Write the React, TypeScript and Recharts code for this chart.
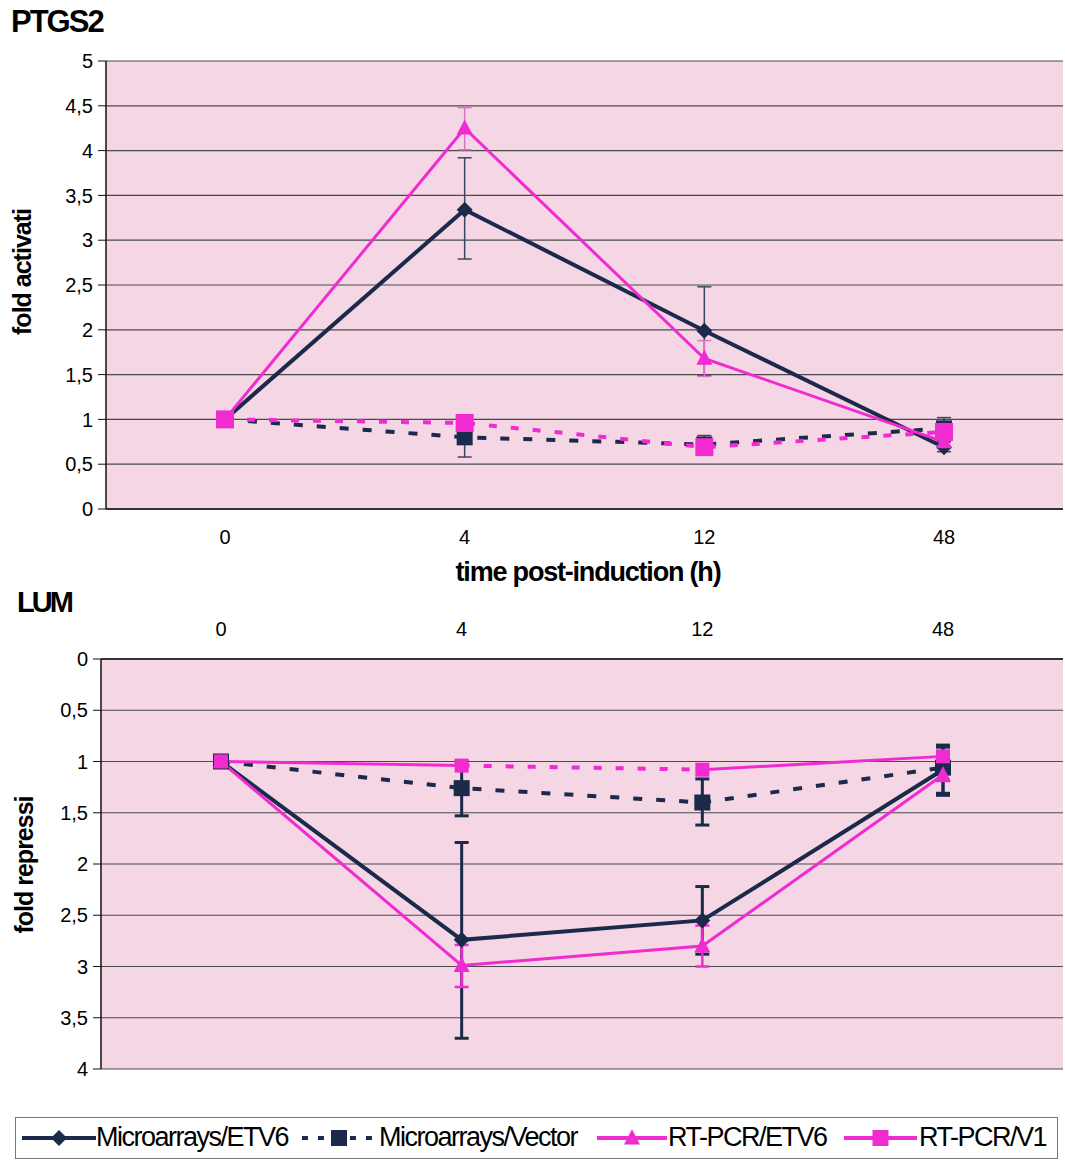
import { LineChart, Line, XAxis, YAxis, CartesianGrid, ErrorBar } from 'recharts'

const times = ['0', '4', '12', '48']

// PTGS2 - fold activation
const ptgsMicroEtv6 = [1, 3.34, 1.99, 0.69]
const ptgsMicroEtv6Err = [null, [0.55, 0.58], [0.5, 0.49], [0.05, 0.06]]
const ptgsMicroVector = [1, 0.8, 0.72, 0.9]
const ptgsMicroVectorErr = [null, [0.22, 0.2], [0.07, 0.1], [0.1, 0.12]]
const ptgsRtEtv6 = [1, 4.25, 1.68, 0.75]
const ptgsRtEtv6Err = [null, [0.24, 0.23], [0.2, 0.2], [0.05, 0.05]]
const ptgsRtV1 = [1, 0.96, 0.69, 0.86]

// LUM - fold repression
const lumMicroEtv6 = [1, 2.74, 2.55, 1.08]
const lumMicroEtv6Err = [null, [0.95, 0.96], [0.33, 0.33], [0.24, 0.25]]
const lumMicroVector = [1, 1.26, 1.4, 1.06]
const lumMicroVectorErr = [null, [0.26, 0.27], [0.23, 0.22], [0.2, 0.25]]
const lumRtEtv6 = [1, 2.99, 2.8, 1.13]
const lumRtEtv6Err = [null, [0.2, 0.21], [0.2, 0.2], [0.06, 0.06]]
const lumRtV1 = [1, 1.04, 1.08, 0.95]

const ptgsTicks = [0, 0.5, 1, 1.5, 2, 2.5, 3, 3.5, 4, 4.5, 5]
const lumTicks = [0, 0.5, 1, 1.5, 2, 2.5, 3, 3.5, 4]

const legendNames = ['Microarrays/ETV6', 'Microarrays/Vector', 'RT-PCR/ETV6', 'RT-PCR/V1']

const navy = '#1b2a4b'
const magenta = '#f02bd0'
const pink = '#f4d6e5'
const font = '"Liberation Sans", Arial, sans-serif'

const ptgsData = times.map((t, i) => ({
  time: t,
  microEtv6: ptgsMicroEtv6[i],
  microEtv6Err: ptgsMicroEtv6Err[i],
  microVector: ptgsMicroVector[i],
  microVectorErr: ptgsMicroVectorErr[i],
  rtEtv6: ptgsRtEtv6[i],
  rtEtv6Err: ptgsRtEtv6Err[i],
  rtV1: ptgsRtV1[i],
}))

// RT-PCR/V1 on LUM is drawn solid on the outer segments, dashed in the middle
const lumData = times.map((t, i) => ({
  time: t,
  microEtv6: lumMicroEtv6[i],
  microEtv6Err: lumMicroEtv6Err[i],
  microVector: lumMicroVector[i],
  microVectorErr: lumMicroVectorErr[i],
  rtEtv6: lumRtEtv6[i],
  rtEtv6Err: lumRtEtv6Err[i],
  rtV1a: i <= 1 ? lumRtV1[i] : null,
  rtV1b: i >= 1 && i <= 2 ? lumRtV1[i] : null,
  rtV1c: i >= 2 ? lumRtV1[i] : null,
}))

const comma = (v: number) => String(v).replace('.', ',')

function marker(kind: string, color: string, r: number) {
  return (props: any) => {
    const { cx, cy, index } = props
    if (cx == null || cy == null || isNaN(cy)) return <g key={index} />
    let d = ''
    if (kind === 'diamond') d = `M${cx},${cy - r}L${cx + r},${cy}L${cx},${cy + r}L${cx - r},${cy}Z`
    else if (kind === 'square') d = `M${cx - r},${cy - r}h${2 * r}v${2 * r}h${-2 * r}Z`
    else d = `M${cx},${cy - r * 1.1}L${cx + r},${cy + r * 0.8}L${cx - r},${cy + r * 0.8}Z`
    return <path key={index} d={d} fill={color} stroke="none" />
  }
}

const tickStyle = { fill: '#000', fontSize: 20, fontFamily: font }

function LegendGlyph({ kind, color, dash, width }: { kind: string; color: string; dash?: string; width: number }) {
  const c = width / 2
  const r = 8
  let d = ''
  if (kind === 'diamond') d = `M${c},${10 - r}L${c + r},10L${c},${10 + r}L${c - r},10Z`
  else if (kind === 'square') d = `M${c - r},${10 - r}h${2 * r}v${2 * r}h${-2 * r}Z`
  else d = `M${c},${10 - r * 1.1}L${c + r},${10 + r * 0.8}L${c - r},${10 + r * 0.8}Z`
  return (
    <svg width={width} height={20} style={{ display: 'block' }}>
      <line x1={0} y1={10} x2={width} y2={10} stroke={color} strokeWidth={4} strokeDasharray={dash} />
      <path d={d} fill={color} />
    </svg>
  )
}

export default function App() {
  return (
    <div style={{ position: 'absolute', left: 0, top: 0, width: 1065, height: 1161, background: '#fff', fontFamily: font, color: '#000' }}>
      <div style={{ position: 'absolute', left: 11, top: 4, fontSize: 31, fontWeight: 700, letterSpacing: -2 }}>PTGS2</div>
      <div style={{ position: 'absolute', left: 0, top: 0 }}>
        <LineChart width={1065} height={560} data={ptgsData} margin={{ top: 61, right: 2, bottom: 11, left: 46 }}>
          <CartesianGrid vertical={false} stroke="#4a4a4a" strokeWidth={1.2} fill={pink} fillOpacity={1} />
          <XAxis dataKey="time" height={40} padding={{ left: 119, right: 119 }} tickLine={false} tickSize={8} tickMargin={13}
            axisLine={{ stroke: '#111', strokeWidth: 1.5 }} tick={tickStyle} />
          <YAxis width={60} domain={[0, 5]} ticks={ptgsTicks} tickFormatter={comma} tickSize={8} tickMargin={5}
            tickLine={{ stroke: '#111' }} axisLine={{ stroke: '#111', strokeWidth: 1.5 }} tick={tickStyle} interval={0} />
          <Line dataKey="microEtv6" stroke={navy} strokeWidth={4} dot={marker('diamond', navy, 8)} activeDot={false} isAnimationActive={false}>
            <ErrorBar dataKey="microEtv6Err" width={7} strokeWidth={1.5} stroke="#3b4663" direction="y" />
          </Line>
          <Line dataKey="microVector" stroke={navy} strokeWidth={4} strokeDasharray="9 14" dot={marker('square', navy, 8)} activeDot={false} isAnimationActive={false}>
            <ErrorBar dataKey="microVectorErr" width={7} strokeWidth={1.5} stroke="#3b4663" direction="y" />
          </Line>
          <Line dataKey="rtEtv6" stroke={magenta} strokeWidth={3} dot={marker('triangle', magenta, 8)} activeDot={false} isAnimationActive={false}>
            <ErrorBar dataKey="rtEtv6Err" width={7} strokeWidth={1.5} stroke="#e070c8" direction="y" />
          </Line>
          <Line dataKey="rtV1" stroke={magenta} strokeWidth={4} strokeDasharray="8 14" dot={marker('square', magenta, 9)} activeDot={false} isAnimationActive={false} />
        </LineChart>
      </div>
      <div style={{ position: 'absolute', left: 22, top: 272, transform: 'translate(-50%, -50%) rotate(-90deg)', whiteSpace: 'nowrap', fontSize: 25, fontWeight: 700, letterSpacing: -1 }}>fold activati</div>
      <div style={{ position: 'absolute', left: 588, top: 572, transform: 'translate(-50%, -50%)', whiteSpace: 'nowrap', fontSize: 27, fontWeight: 700, letterSpacing: -1.2 }}>time post-induction (h)</div>

      <div style={{ position: 'absolute', left: 17, top: 586, fontSize: 29, fontWeight: 700, letterSpacing: -3 }}>LUM</div>
      <div style={{ position: 'absolute', left: 0, top: 580 }}>
        <LineChart width={1065} height={500} data={lumData} margin={{ top: 39, right: 2, bottom: 11, left: 41 }}>
          <CartesianGrid vertical={false} stroke="#4a4a4a" strokeWidth={1.2} fill={pink} fillOpacity={1} />
          <XAxis dataKey="time" orientation="top" height={40} padding={{ left: 120, right: 120 }} tickLine={false} tickSize={8} tickMargin={15}
            axisLine={{ stroke: '#111', strokeWidth: 1.5 }} tick={tickStyle} />
          <YAxis width={60} reversed domain={[0, 4]} ticks={lumTicks} tickFormatter={comma} tickSize={8} tickMargin={5}
            tickLine={{ stroke: '#111' }} axisLine={{ stroke: '#111', strokeWidth: 1.5 }} tick={tickStyle} interval={0} />
          <Line dataKey="microEtv6" stroke={navy} strokeWidth={4} dot={marker('diamond', navy, 8)} activeDot={false} isAnimationActive={false}>
            <ErrorBar dataKey="microEtv6Err" width={7} strokeWidth={3} stroke={navy} direction="y" />
          </Line>
          <Line dataKey="microVector" stroke={navy} strokeWidth={4} strokeDasharray="9 14" dot={marker('square', navy, 8)} activeDot={false} isAnimationActive={false}>
            <ErrorBar dataKey="microVectorErr" width={7} strokeWidth={3} stroke={navy} direction="y" />
          </Line>
          <Line dataKey="rtEtv6" stroke={magenta} strokeWidth={3} dot={marker('triangle', magenta, 8)} activeDot={false} isAnimationActive={false}>
            <ErrorBar dataKey="rtEtv6Err" width={7} strokeWidth={2.5} stroke={magenta} direction="y" />
          </Line>
          <Line dataKey="rtV1a" stroke={magenta} strokeWidth={3} dot={marker('square', magenta, 7)} activeDot={false} isAnimationActive={false} />
          <Line dataKey="rtV1b" stroke={magenta} strokeWidth={4} strokeDasharray="8 14" dot={false} activeDot={false} isAnimationActive={false} />
          <Line dataKey="rtV1c" stroke={magenta} strokeWidth={3} dot={marker('square', magenta, 7)} activeDot={false} isAnimationActive={false} />
        </LineChart>
      </div>
      <div style={{ position: 'absolute', left: 24, top: 865, transform: 'translate(-50%, -50%) rotate(-90deg)', whiteSpace: 'nowrap', fontSize: 25, fontWeight: 700, letterSpacing: -1 }}>fold repressi</div>

      <div style={{ position: 'absolute', left: 15, top: 1117, width: 1041, height: 40, border: '1.5px solid #777', fontSize: 27, letterSpacing: -1.5 }}>
        <div style={{ position: 'absolute', left: 6, top: 10 }}><LegendGlyph kind="diamond" color={navy} width={74} /></div>
        <div style={{ position: 'absolute', left: 80, top: 4 }}>{legendNames[0]}</div>
        <div style={{ position: 'absolute', left: 286, top: 10 }}><LegendGlyph kind="square" color={navy} dash="6 10" width={74} /></div>
        <div style={{ position: 'absolute', left: 363, top: 4 }}>{legendNames[1]}</div>
        <div style={{ position: 'absolute', left: 581, top: 10 }}><LegendGlyph kind="triangle" color={magenta} width={70} /></div>
        <div style={{ position: 'absolute', left: 652, top: 4 }}>{legendNames[2]}</div>
        <div style={{ position: 'absolute', left: 828, top: 10 }}><LegendGlyph kind="square" color={magenta} width={73} /></div>
        <div style={{ position: 'absolute', left: 903, top: 4 }}>{legendNames[3]}</div>
      </div>
    </div>
  )
}
